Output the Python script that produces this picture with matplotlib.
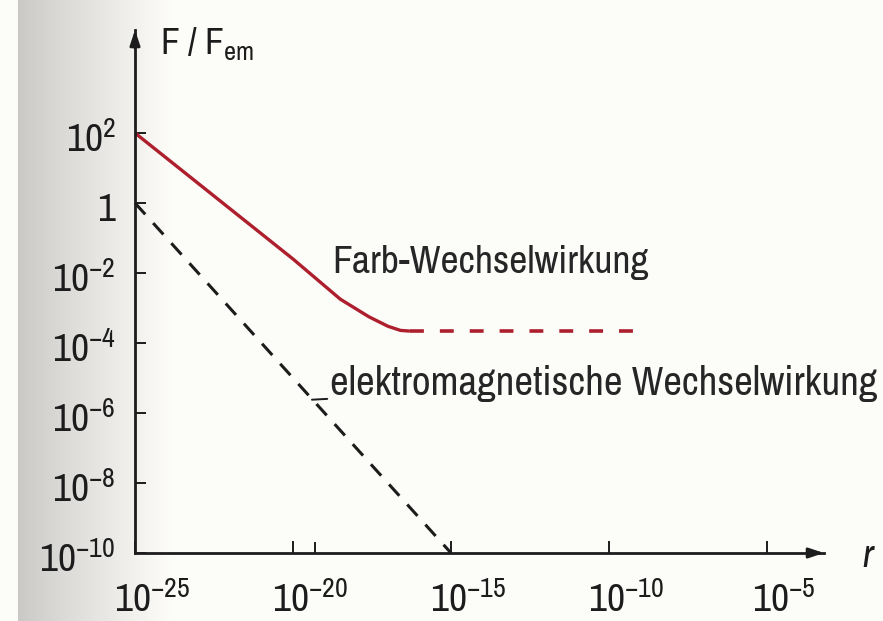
import numpy as np
import matplotlib
matplotlib.use("Agg")
import matplotlib.pyplot as plt
import matplotlib.transforms as mtransforms
from matplotlib import font_manager as fm

_avail = set(f.name for f in fm.fontManager.ttflist)
FONT = 'Liberation Sans'
for cand in ['Nimbus Sans Narrow', 'Arial Narrow', 'Liberation Sans Narrow',
             'Archivo Narrow', 'PT Sans Narrow', 'Roboto Condensed']:
    if cand in _avail:
        FONT = cand
        break

plt.rcParams['font.family'] = [FONT, 'DejaVu Sans']
plt.rcParams['mathtext.fontset'] = 'custom'
plt.rcParams['mathtext.rm'] = FONT
plt.rcParams['mathtext.it'] = FONT + ':italic'
plt.rcParams['mathtext.bf'] = FONT + ':bold'
plt.rcParams['lines.scale_dashes'] = False

# ---- data (log10 values) ----
x_ticks_exp = [-25, -20, -15, -10, -5]
y_ticks_exp = [2, 0, -2, -4, -6, -8, -10]
y_tick_labels = ['$10^{2}$', '1', '$10^{-2}$', '$10^{-4}$', '$10^{-6}$', '$10^{-8}$', '$10^{-10}$']
x_tick_labels = ['$10^{-25}$', '$10^{-20}$', '$10^{-15}$', '$10^{-10}$', '$10^{-5}$']

farb_solid_x = [-25, -22.5, -20, -18.5, -17.6, -17.0, -16.6, -16.3]
farb_solid_y = [2.0, 0.2, -1.6, -2.75, -3.25, -3.52, -3.64, -3.66]
farb_dash_x = [-16.3, -9.25]
farb_dash_y = [-3.66, -3.66]

em_x = [-25, -15]
em_y = [0, -10]

W, H = 883, 621
fig = plt.figure(figsize=(W / 100, H / 100), dpi=100)
fig.patch.set_facecolor('#fdfdf9')
renderer = fig.canvas.get_renderer()


def fit_size(s, target_px, **kw):
    p = fig.text(0, 0.5, s, fontsize=20, **kw)
    w = p.get_window_extent(renderer).width
    p.remove()
    return 20 * target_px / w


# scanned-page shading on the left
bg = fig.add_axes([0, 0, 1, 1], zorder=-10)
bg.set_axis_off()
cols = np.arange(W, dtype=float)
shade = np.full(W, 0.992)
m = (cols >= 18) & (cols < 170)
t = (cols[m] - 18) / 152.0
shade[m] = 0.79 + (0.992 - 0.79) * t ** 0.9
img = np.tile(shade, (H, 1))
rgb = np.dstack([img, img * 0.997, img * 0.985])
bg.imshow(rgb, aspect='auto', extent=[0, 1, 0, 1], interpolation='bilinear')
bg.set_xlim(0, 1)
bg.set_ylim(0, 1)

# axes placement (pixels)
x0_px, x1_px = 135, 824
y0_px, y1_px = 553, 30
ax = fig.add_axes([x0_px / W, (H - y0_px) / H, (x1_px - x0_px) / W, (y0_px - y1_px) / H])
ax.patch.set_alpha(0)
ax.set_xscale('log')
ax.set_yscale('log')
ax.set_xlim(1e-25, 10 ** (-25 + (x1_px - x0_px) / 31.6))
ax.set_ylim(1e-10, 10 ** (-10 + (y0_px - y1_px) / 35.0))

ink = '#1c1c1c'
for s in ['top', 'right']:
    ax.spines[s].set_visible(False)
for s in ['left', 'bottom']:
    ax.spines[s].set_linewidth(2.0)
    ax.spines[s].set_color(ink)

FS_FARB = fit_size('Farb-Wechselwirkung', 316)
FS_EM = fit_size('elektromagnetische Wechselwirkung', 545)
TFS = fit_size('$10^{-25}$', 77)
LFS = fit_size('F / F$_{\\mathrm{em}}$', 95)

ax.set_xticks([10.0 ** e for e in x_ticks_exp])
ax.set_xticklabels(x_tick_labels)
ax.set_xticks([10.0 ** -19.3], minor=True)
ax.set_yticks([10.0 ** e for e in y_ticks_exp])
ax.set_yticklabels(y_tick_labels)
ax.yaxis.set_minor_locator(matplotlib.ticker.NullLocator())
ax.tick_params(axis='x', which='major', direction='in', length=9, width=1.4,
               labelsize=TFS, pad=20, colors=ink)
ax.tick_params(axis='x', which='minor', direction='in', length=8, width=1.4, colors=ink)
ax.tick_params(axis='y', which='major', direction='in', length=8, width=1.4,
               labelsize=TFS, pad=14, colors=ink)
offset = mtransforms.ScaledTranslation(17 / 100, 0, fig.dpi_scale_trans)
for lab in ax.get_xticklabels():
    lab.set_transform(lab.get_transform() + offset)
yoff = mtransforms.ScaledTranslation(0, -4 / 100, fig.dpi_scale_trans)
for lab in ax.get_yticklabels():
    lab.set_transform(lab.get_transform() + yoff)

# arrow heads
ax.annotate('', xy=(1.0, 0), xytext=(0.975, 0), xycoords='axes fraction',
            arrowprops=dict(arrowstyle='-|>,head_length=0.9,head_width=0.3',
                            color=ink, lw=2.0, shrinkA=0, shrinkB=0))
ax.annotate('', xy=(0, 1.0), xytext=(0, 0.965), xycoords='axes fraction',
            arrowprops=dict(arrowstyle='-|>,head_length=0.9,head_width=0.3',
                            color=ink, lw=2.0, shrinkA=0, shrinkB=0))

red = '#ad1f2d'
ax.plot(10.0 ** np.array(farb_solid_x), 10.0 ** np.array(farb_solid_y),
        color=red, lw=2.4, solid_capstyle='butt', clip_on=False)
ax.plot(10.0 ** np.array(farb_dash_x), 10.0 ** np.array(farb_dash_y),
        color=red, lw=2.6, dashes=[10, 11.5], clip_on=False)
ax.plot(10.0 ** np.array(em_x), 10.0 ** np.array(em_y),
        color=ink, lw=2.2, dashes=[11, 8.5], clip_on=False)

txtcol = '#262626'
ax.text(10 ** (-25 + (332 - 135) / 31.6), 10 ** (2 - (263 - 133) / 35.0),
        'Farb-Wechselwirkung', fontsize=FS_FARB, color=txtcol, va='center', ha='left')
ax.annotate('elektromagnetische Wechselwirkung', xy=(10 ** -19.4, 10 ** -5.62),
            xytext=(10 ** (-25 + (330 - 135) / 31.6), 10 ** (2 - (384 - 133) / 35.0)),
            fontsize=FS_EM, color=txtcol, va='center', ha='left', annotation_clip=False,
            arrowprops=dict(arrowstyle='-', color=ink, lw=1.4,
                            shrinkA=0, shrinkB=0))

fig.text(160 / W, 1 - 44 / H, 'F / F$_{\\mathrm{em}}$', fontsize=LFS,
         color=ink, va='center', ha='left')
fig.text(862 / W, 1 - 567 / H, 'r', fontsize=FS_FARB, style='italic',
         color=ink, va='baseline', ha='left')

fig.savefig('out.png', dpi=100, facecolor=fig.get_facecolor())
